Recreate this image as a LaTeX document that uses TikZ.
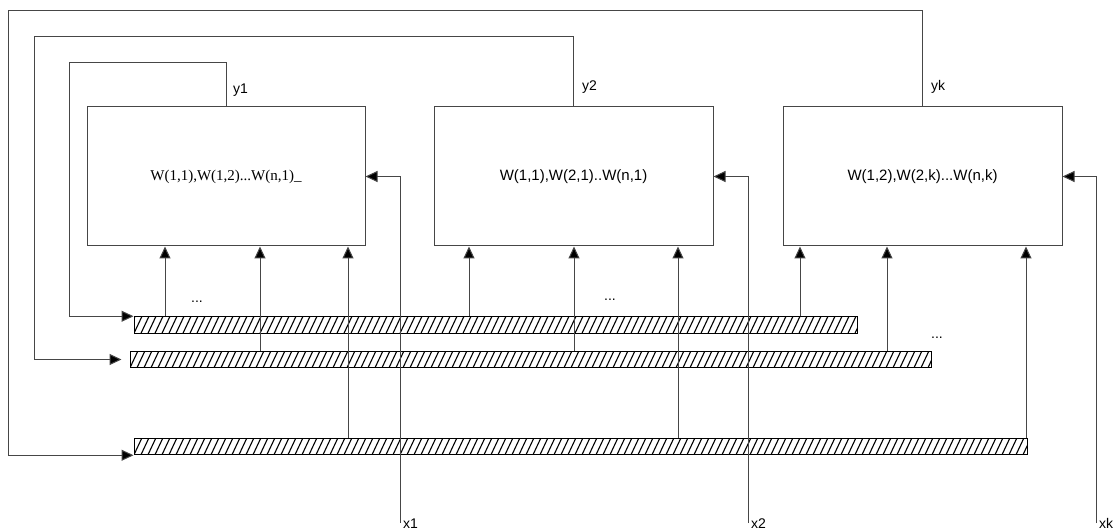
\documentclass[tikz,border=0pt]{standalone}
\usepackage{fontspec}
\setmainfont{Liberation Sans}
\newfontfamily\seriffont{Liberation Serif}
\usetikzlibrary{arrows.meta}
\definecolor{linecol}{RGB}{70,70,70}
\tikzset{
  wire/.style={draw=linecol, line width=1pt},
  arr/.style={wire, -{Triangle[length=12pt,width=11pt,fill=black]}},
  wbox/.style={draw=linecol, line width=1pt, minimum width=278pt, minimum height=139pt, inner sep=0pt, font=\fontsize{15}{17}\selectfont},
  lbl/.style={inner sep=0pt, font=\fontsize{14}{16}\selectfont},
  dots/.style={inner sep=0pt, font=\fontsize{14}{16}\selectfont},
  hbar/.style={draw=black, line width=1pt, minimum height=16.5pt, inner sep=0pt,
    path picture={
      \foreach \i in {-3,...,130}
        \draw[black, line width=1.1pt] ([xshift=\i*7pt]path picture bounding box.south west) -- ++(8pt,17pt);
    }},
}
\begin{document}
\begin{tikzpicture}[x=1pt,y=-1pt]
\useasboundingbox (0,0) rectangle (1116,529);
% boxes
\node[wbox, minimum width=278pt] (box1) at (226,176.5) {\seriffont W(1,1),W(1,2)...W(n,1)\_};
\node[wbox, minimum width=279pt] (box2) at (573.5,176.5) {W(1,1),W(2,1)..W(n,1)};
\node[wbox, minimum width=279pt] (box3) at (922.5,176.5) {W(1,2),W(2,k)...W(n,k)};
% bars
\node[hbar, minimum width=723pt] (bar1) at (495.5,325) {};
\node[hbar, minimum width=801pt] (bar2) at (530.5,359.5) {};
\node[hbar, minimum width=893pt] (bar3) at (580.5,446.5) {};
% feedback loops
\coordinate (l1) at (69,63);
\coordinate (l2) at (34,37);
\coordinate (l3) at (8,11);
\draw[arr] (box1.north) |- (l1) |- (bar1.north west);
\draw[arr, shorten >=8pt] (box2.north) |- (l2) |- (bar2.west);
\draw[arr] (box3.north) |- (l3) |- (bar3.south west);
% output labels
\node[lbl, anchor=base west] (y1) at (233,94) {y1};
\node[lbl, anchor=base west] (y2) at (582,91) {y2};
\node[lbl, anchor=base west] (yk) at (931,91) {yk};
% bar to box arrows
\foreach \xx/\b/\bx in {165/bar1/box1, 260/bar2/box1, 348/bar3/box1,
                        469/bar1/box2, 574/bar2/box2, 678/bar3/box2,
                        800/bar1/box3, 887/bar2/box3, 1026/bar3/box3} {
  \coordinate (t) at (\xx,0);
  \draw[arr] (\b.north -| t) -- (\bx.south -| t);
}
% inputs
\coordinate (in1) at (400,523);
\coordinate (in2) at (748,523);
\coordinate (ink) at (1096,523);
\draw[arr] (in1) |- (box1.east);
\draw[arr] (in2) |- (box2.east);
\draw[arr] (ink) |- (box3.east);
\node[lbl, anchor=base west] (x1) at (403,528) {x1};
\node[lbl, anchor=base west] (x2) at (751,528) {x2};
\node[lbl, anchor=base west] (xk) at (1099,528) {xk};
% dots
\node[dots] (d1) at (197,302) {...};
\node[dots] (d2) at (610,300) {...};
\node[dots] (d3) at (937,338) {...};
\end{tikzpicture}
\end{document}
